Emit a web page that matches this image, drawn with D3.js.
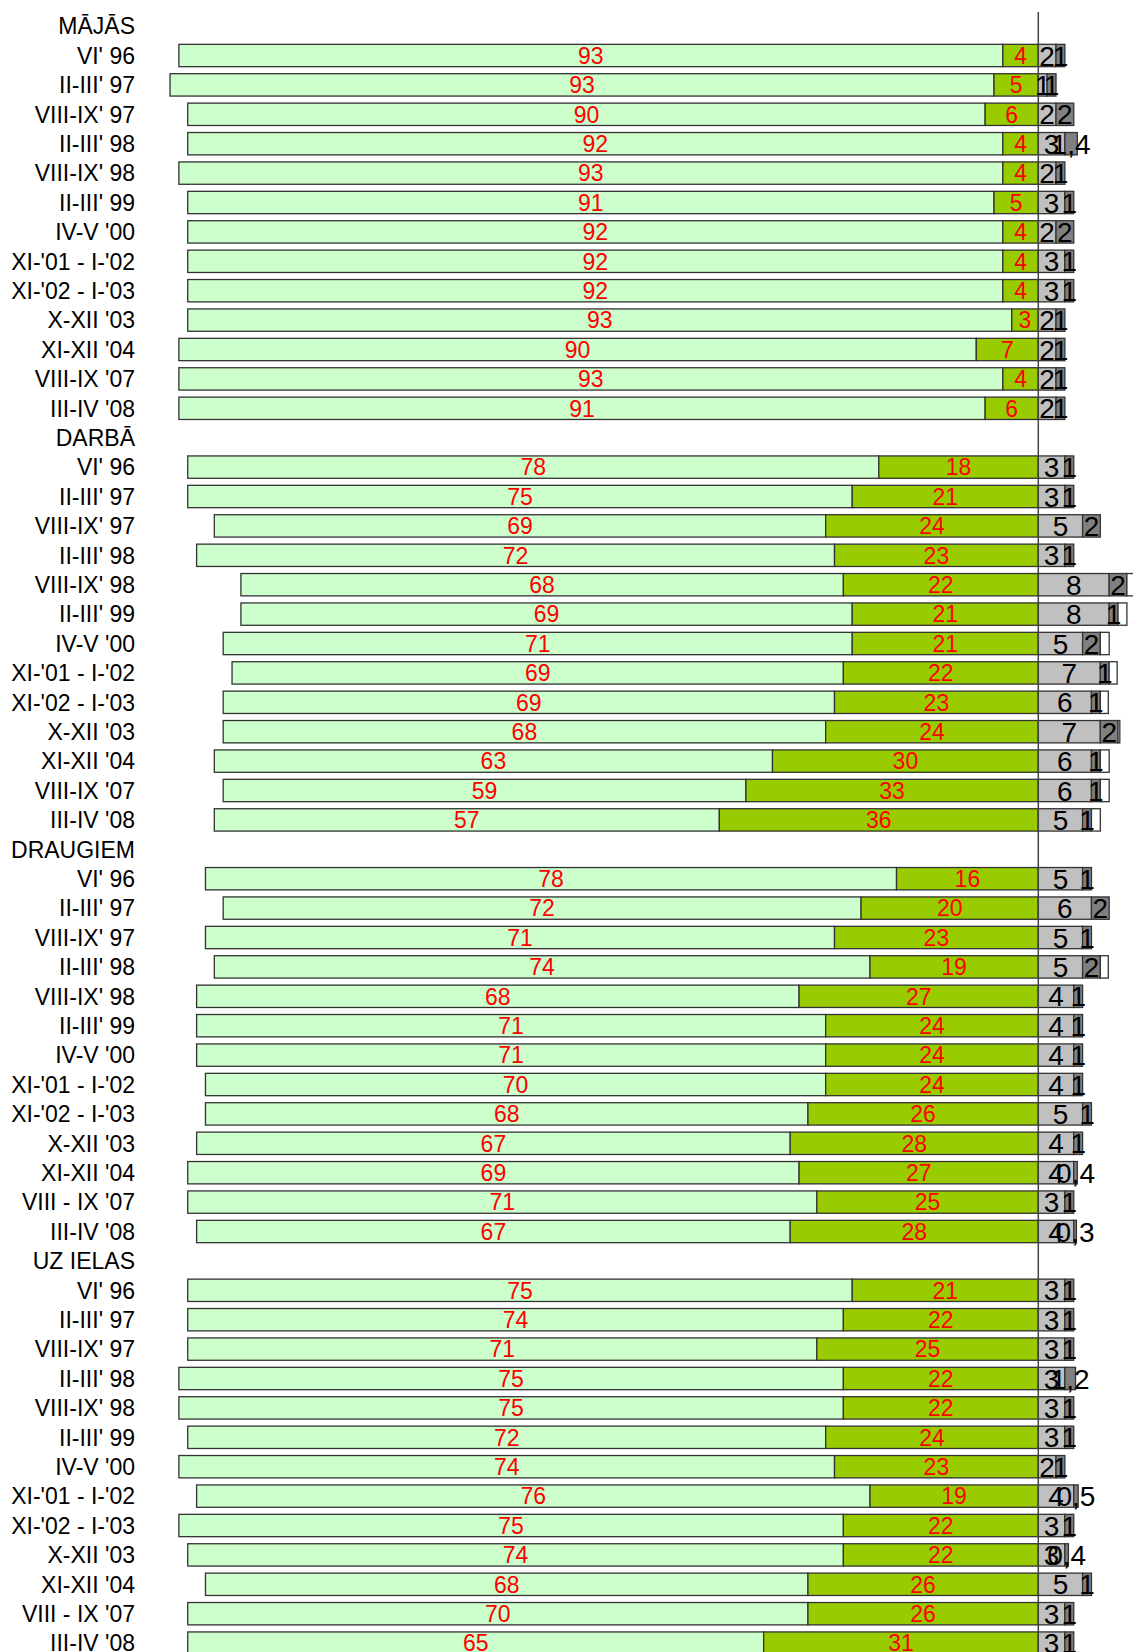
<!DOCTYPE html>
<html>
<head>
<meta charset="utf-8">
<script src="https://cdn.jsdelivr.net/npm/d3@7"></script>
<style>
  html, body { margin: 0; padding: 0; background: #fff; }
  svg { display: block; }
</style>
</head>
<body>
<svg id="chart" width="1133" height="1652"></svg>
<script>
// ---- data ----
const groups = ["MĀJĀS", "DARBĀ", "DRAUGIEM", "UZ IELAS"];
const periodsA = ["VI' 96", "II-III' 97", "VIII-IX' 97", "II-III' 98", "VIII-IX' 98", "II-III' 99", "IV-V '00",
  "XI-'01 - I-'02", "XI-'02 - I-'03", "X-XII '03", "XI-XII '04", "VIII-IX '07", "III-IV '08"];
const periodsB = ["VI' 96", "II-III' 97", "VIII-IX' 97", "II-III' 98", "VIII-IX' 98", "II-III' 99", "IV-V '00",
  "XI-'01 - I-'02", "XI-'02 - I-'03", "X-XII '03", "XI-XII '04", "VIII - IX '07", "III-IV '08"];
const groupPeriods = [periodsA, periodsA, periodsB, periodsB];

// series (rows in order: MĀJĀS 13, DARBĀ 13, DRAUGIEM 13, UZ IELAS 13)
const series1 = [93,93,90,92,93,91,92,92,92,93,90,93,91,
                 78,75,69,72,68,69,71,69,69,68,63,59,57,
                 78,72,71,74,68,71,71,70,68,67,69,71,67,
                 75,74,71,75,75,72,74,76,75,74,68,70,65];
const series2 = [4,5,6,4,4,5,4,4,4,3,7,4,6,
                 18,21,24,23,22,21,21,22,23,24,30,33,36,
                 16,20,23,19,27,24,24,24,26,28,27,25,28,
                 21,22,25,22,22,24,23,19,22,22,26,26,31];
const series3 = [2,1,2,3,2,3,2,3,3,2,2,2,2,
                 3,3,5,3,8,8,5,7,6,7,6,6,5,
                 5,6,5,5,4,4,4,4,5,4,4,3,4,
                 3,3,3,3,3,3,2,4,3,3,5,3,3];
const series4 = [1,1,2,1.4,1,1,2,1,1,1,1,1,1,
                 1,1,2,1,2,1,2,1,1,2,1,1,1,
                 1,2,1,2,1,1,1,1,1,1,0.4,1,0.3,
                 1,1,1,1.2,1,1,1,0.5,1,0.4,1,1,1];
const series5 = [0,0,0,0,0,0,0,0,0,0,0,0,0,
                 0,0,0,0,0.8,1,1,0.9,0.9,0.2,1,1,1,
                 0,0,0,0.9,0,0,0,0,0,0,0,0,0,
                 0,0,0,0,0,0,0,0,0,0,0,0,0];

const seriesFill = ["#CCFFCC", "#99CC00", "#C0C0C0", "#808080", "#FFFFFF"];

// ---- build rows ----
const rows = [];
let k = 0;
groups.forEach((g, gi) => {
  rows.push({ key: "h" + gi, label: g, header: true });
  groupPeriods[gi].forEach((p, pi) => {
    rows.push({ key: "r" + gi + "_" + pi, label: p, header: false,
      vals: [series1[k], series2[k], series3[k], series4[k], series5[k]] });
    k++;
  });
});

const svg = d3.select("#chart");
const font = "'Liberation Sans', Arial, sans-serif";

const y = d3.scaleBand()
  .domain(rows.map(r => r.key))
  .range([11.4, 11.4 + rows.length * 29.4])
  .paddingInner(0.24)
  .paddingOuter(0.12);

const x = d3.scaleLinear().domain([-100, 10]).range([152.3, 1126.9]);

const fmt = v => Number.isInteger(v) ? String(v) : String(v).replace(".", ",");

// bars
const dataRows = rows.filter(r => !r.header);
const segs = [];
dataRows.forEach(r => {
  const [a, b, c, d, e] = r.vals;
  segs.push({ row: r, s: 0, x0: -(a + b), x1: -b, v: a });
  segs.push({ row: r, s: 1, x0: -b, x1: 0, v: b });
  segs.push({ row: r, s: 2, x0: 0, x1: c, v: c });
  segs.push({ row: r, s: 3, x0: c, x1: c + d, v: d });
  if (e > 0) segs.push({ row: r, s: 4, x0: c + d, x1: c + d + e, v: e });
});

svg.append("g").selectAll("rect")
  .data(segs)
  .join("rect")
  .attr("x", d => x(d.x0))
  .attr("width", d => x(d.x1) - x(d.x0))
  .attr("y", d => y(d.row.key))
  .attr("height", y.bandwidth())
  .attr("fill", d => seriesFill[d.s])
  .attr("stroke", "#333")
  .attr("stroke-width", 1.3);

// zero line
svg.append("line")
  .attr("x1", x(0)).attr("x2", x(0))
  .attr("y1", 12).attr("y2", 1652)
  .attr("stroke", "#444").attr("stroke-width", 1.5);

// value labels
svg.append("g").selectAll("text")
  .data(segs.filter(d => d.s < 4 && d.v > 0))
  .join("text")
  .attr("x", d => (x(d.x0) + x(d.x1)) / 2)
  .attr("y", d => y(d.row.key) + y.bandwidth() / 2)
  .attr("dy", "0.36em")
  .attr("text-anchor", "middle")
  .attr("font-family", font)
  .attr("font-size", d => d.s < 2 ? 23 : 28)
  .attr("fill", d => d.s < 2 ? "#FF0000" : "#000")
  .text(d => fmt(d.v));

// category labels
svg.append("g").selectAll("text")
  .data(rows)
  .join("text")
  .attr("x", 135)
  .attr("y", d => y(d.key) + y.bandwidth() / 2)
  .attr("dy", "0.36em")
  .attr("text-anchor", "end")
  .attr("font-family", font)
  .attr("font-size", 23)
  .attr("fill", "#000")
  .text(d => d.label);
</script>
</body>
</html>
